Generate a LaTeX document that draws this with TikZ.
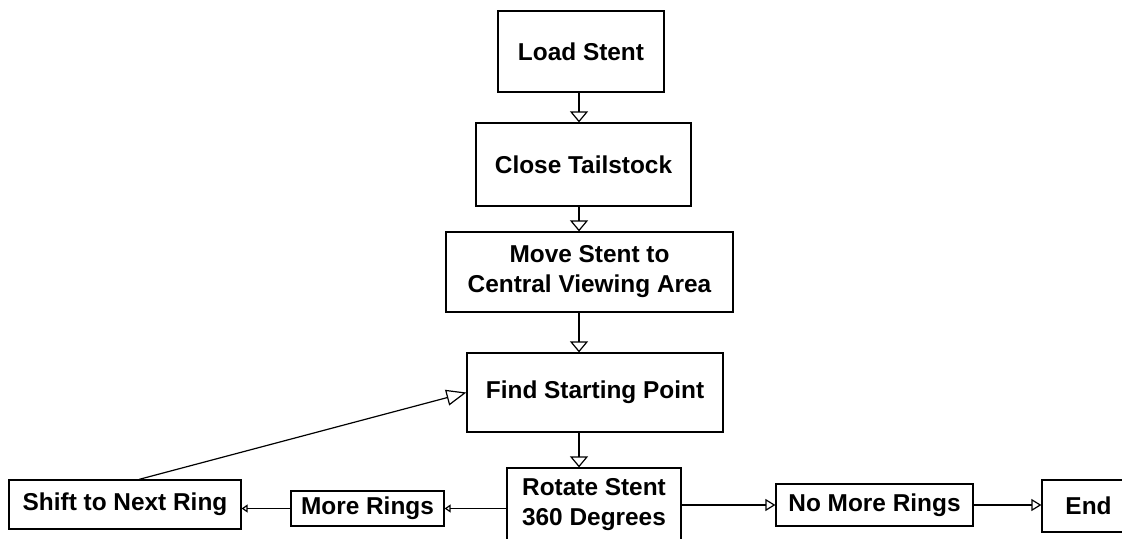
\documentclass[tikz,border=0pt]{standalone}
\usepackage{fontspec}
\setmainfont{Liberation Sans}
\usetikzlibrary{calc,arrows.meta}

\begin{document}
\begin{tikzpicture}[x=0.5pt,y=-0.5pt,
    stage/.style={draw,line width=0.6pt,inner sep=0pt,align=center,
        font=\fontsize{12.2}{15}\selectfont\bfseries},
    flow/.style={line width=0.6pt},
    down/.style={flow,-{Triangle[open,length=5.5pt,width=9pt]}},
    back/.style={flow,-{Triangle[open,length=10pt,width=8pt]}},
    side/.style={flow,-{Triangle[open,length=3pt,width=4pt]}},
    onward/.style={flow,-{Triangle[open,length=5pt,width=6pt]}}]

% Fix the page to the picture size.
\useasboundingbox (0,0) rectangle (1122,539);

% Main column of stages.
\node[stage,minimum width=83pt,minimum height=40.5pt]
    (load) at (581,51.5) {Load Stent};
\node[stage,minimum width=107.5pt,minimum height=41.5pt]
    (close) at (583.5,164.5) {Close Tailstock};
\node[stage,minimum width=143.5pt,minimum height=40pt]
    (move) at (589.5,272) {Move Stent to\\Central Viewing Area};
\node[stage,minimum width=128pt,minimum height=39.5pt]
    (find) at (595,392.5) {Find Starting Point};
\node[stage,minimum width=87pt,minimum height=37pt]
    (rotate) at (594,505) {Rotate Stent\\360 Degrees};

% Bottom row, left and right of the rotate step.
\node[stage,minimum width=116pt,minimum height=24.5pt]
    (shift) at (125,504.5) {Shift to Next Ring};
\node[stage,minimum width=76.5pt,minimum height=17.5pt]
    (more) at (367.5,508.5) {More Rings};
\node[stage,minimum width=98.5pt,minimum height=21pt]
    (nomore) at (874.5,505) {No More Rings};
\node[stage,minimum width=46.5pt,minimum height=26pt]
    (end) at (1088.5,506) {End};

% Vertical line that all the downward arrows run on.
\coordinate (spine) at (579,0);

% Loop for each downward step.
\foreach \a/\b in {load/close,close/move,move/find,find/rotate} {
    \draw[down] (spine |- \a.south) -- (spine |- \b.north);
}

% Left branch: more rings.
\draw[side] (rotate.west |- more) -- (more.east);
\draw[side] (more.west) -- (more.west -| shift.east);

% Back up to the starting point.
\draw[back]
    ($(shift.north west)!0.56!(shift.north east)$)
    -- (find.west);

% Right branch: no more rings.
\draw[onward] (rotate.east |- nomore) -- (nomore.west);
\draw[onward] (nomore.east) -- (nomore.east -| end.west);

\end{tikzpicture}
\end{document}
